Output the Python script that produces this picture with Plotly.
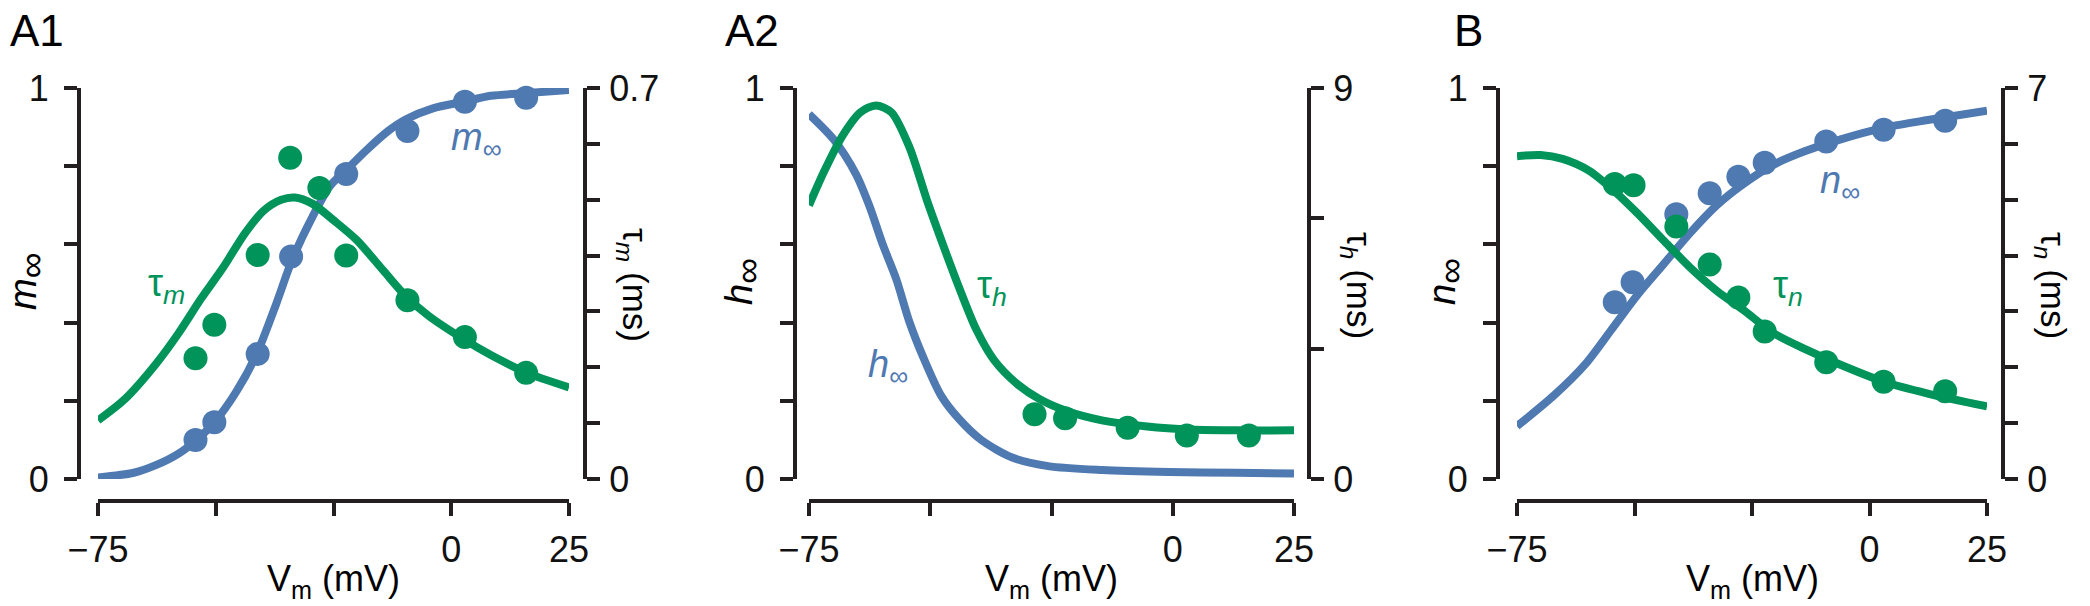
import plotly.graph_objects as go

# ---------------- data ----------------
# Panel A1 : m_inf and tau_m
a1_minf_curve_v = [-75, -67.4, -62.6, -57.9, -54.1, -50.3, -45.6, -41.3, -37.1, -33.8, -29.5,
                   -25.7, -22.3, -18.1, -13.4, -9.6, -3.9, 2.7, 8.4, 16.1, 25]
a1_minf_curve = [0.004, 0.016, 0.036, 0.065, 0.10, 0.145, 0.224, 0.32, 0.45, 0.56, 0.67,
                 0.75, 0.79, 0.84, 0.89, 0.92, 0.948, 0.965, 0.98, 0.987, 0.995]
a1_taum_curve_v = [-75, -69.3, -62.7, -57.9, -53.1, -48.4, -43.7, -39.9, -36.1, -33.2, -29.5,
                   -24.8, -20.1, -14.3, -9.6, -4.8, 2.7, 8.4, 16.1, 25]
a1_taum_curve = [0.105, 0.143, 0.206, 0.261, 0.323, 0.379, 0.441, 0.48, 0.50, 0.504, 0.493,
                 0.462, 0.428, 0.372, 0.327, 0.292, 0.25, 0.222, 0.19, 0.164]
a1_minf_pts_v = [-54.3, -50.3, -41.1, -34.0, -22.3, -9.3, 2.9, 15.9]
a1_minf_pts = [0.10, 0.145, 0.32, 0.569, 0.78, 0.89, 0.965, 0.975]
a1_taum_pts_v = [-54.3, -50.3, -41.1, -34.2, -28.0, -22.3, -9.3, 2.9, 15.9]
a1_taum_pts = [0.216, 0.276, 0.401, 0.575, 0.521, 0.40, 0.32, 0.254, 0.19]

# Panel A2 : h_inf and tau_h
a2_hinf_curve_v = [-75.0, -69.9, -65.3, -62.6, -59.8, -57.0, -54.3, -51.5, -47.8, -44.1, -39.5,
                   -33.1, -25.7, -14.6, -0.8, 13.0, 25.0]
a2_hinf_curve = [0.933, 0.868, 0.779, 0.70, 0.60, 0.511, 0.402, 0.313, 0.214, 0.154, 0.10,
                 0.055, 0.033, 0.023, 0.018, 0.016, 0.014]
a2_tauh_curve_v = [-75.0, -71.8, -68.1, -64.4, -61.2, -58.0, -54.3, -50.6, -47.4, -44.1, -40.5,
                   -36.8, -32.1, -27.5, -22.0, -14.6, -5.3, 3.8, 13.0, 25.0]
a2_tauh_curve = [6.30, 7.10, 7.90, 8.44, 8.60, 8.44, 7.64, 6.39, 5.40, 4.42, 3.44,
                 2.73, 2.19, 1.84, 1.57, 1.35, 1.21, 1.14, 1.12, 1.12]
a2_tauh_pts_v = [-28.5, -22.2, -9.3, 2.9, 15.7]
a2_tauh_pts = [1.49, 1.40, 1.18, 1.00, 1.00]

# Panel B : n_inf and tau_n
b_ninf_curve_v = [-75.0, -67.1, -60.5, -54.9, -49.3, -43.7, -38.1, -32.5, -26.9, -20.4, -13.8,
                  -6.3, 3.0, 12.4, 25.0]
b_ninf_curve = [0.135, 0.214, 0.293, 0.382, 0.472, 0.551, 0.63, 0.70, 0.754, 0.804, 0.838,
                0.868, 0.898, 0.918, 0.942]
b_ninf_pts_v = [-54.2, -50.4, -41.1, -34.0, -27.9, -22.3, -9.2, 3.0, 16.1]
b_ninf_pts = [0.452, 0.503, 0.677, 0.731, 0.773, 0.809, 0.863, 0.893, 0.916]
b_taun_curve_v = [-75.0, -70.0, -65.3, -59.7, -54.1, -49.4, -43.8, -38.2, -32.5, -26.9, -20.4,
                  -13.8, -6.3, 3.1, 12.4, 25.0]
b_taun_curve = [5.78, 5.80, 5.73, 5.52, 5.14, 4.76, 4.27, 3.79, 3.37, 3.03, 2.61,
                2.33, 2.05, 1.74, 1.53, 1.30]
b_taun_pts_v = [-54.2, -50.2, -41.1, -34.0, -27.9, -22.3, -9.2, 3.0, 16.1]
b_taun_pts = [5.28, 5.26, 4.52, 3.84, 3.25, 2.64, 2.09, 1.74, 1.57]

# axes / tick labels (labelled ticks + unlabelled minor ticks)
x_tickvals = [-75, 0, 25]
x_ticktext = ["\u221275", "0", "25"]
x_minorvals = [-50, -25]
left_tickvals = [0, 1]
left_ticktext = ["0", "1"]
left_minorvals = [0.2, 0.4, 0.6, 0.8]
a1_right_tickvals = [0, 0.7]
a1_right_ticktext = ["0", "0.7"]
a1_right_minorvals = [0.1, 0.2, 0.3, 0.4, 0.5, 0.6]
a2_right_tickvals = [0, 9]
a2_right_ticktext = ["0", "9"]
a2_right_minorvals = [3, 6]
b_right_tickvals = [0, 7]
b_right_ticktext = ["0", "7"]
b_right_minorvals = [1, 2, 3, 4, 5, 6]

panel_letters = ["A1", "A2", "B"]
INF = "<span style='font-size:36px'>\u221e</span>"
left_titles = ["<i>m</i><sub>" + INF + "</sub>", "<i>h</i><sub>" + INF + "</sub>",
               "<i>n</i><sub>" + INF + "</sub>"]
right_titles = ["\u03c4<sub><i>m</i></sub> (ms)", "\u03c4<sub><i>h</i></sub> (ms)",
                "\u03c4<sub><i>n</i></sub> (ms)"]
x_title = "V<sub>m</sub> (mV)"

# ---------------- styling / geometry ----------------
W, H = 2090, 606
BLUE = "#4F79B1"
GREEN = "#00935A"
AXC = "#231F20"
FONT = "Liberation Sans, Arial, sans-serif"
LW = 8
MS = 24

def fx(p):
    return p / W

def fy(p):
    return 1 - p / H

geom = [
    dict(left=79, x0=98, x1=569, right=585, letter=8),
    dict(left=795, x0=809, x1=1294, right=1309, letter=723),
    dict(left=1498, x0=1517, x1=1987, right=2003, letter=1452),
]
Y_TOP, Y_BOT, X_LINE = 88, 479, 501

fig = go.Figure()

def curve(x, y, xa, ya, color):
    fig.add_trace(go.Scatter(x=x, y=y, xaxis=xa, yaxis=ya, mode="lines",
                             line=dict(color=color, width=LW, shape="spline", smoothing=0.8),
                             showlegend=False, hoverinfo="skip"))

def dots(x, y, xa, ya, color):
    fig.add_trace(go.Scatter(x=x, y=y, xaxis=xa, yaxis=ya, mode="markers",
                             marker=dict(color=color, size=MS, line=dict(width=0)),
                             cliponaxis=False, showlegend=False, hoverinfo="skip"))

# A1
curve(a1_minf_curve_v, a1_minf_curve, "x", "y", BLUE)
dots(a1_minf_pts_v, a1_minf_pts, "x", "y", BLUE)
curve(a1_taum_curve_v, a1_taum_curve, "x", "y2", GREEN)
dots(a1_taum_pts_v, a1_taum_pts, "x", "y2", GREEN)
# A2
curve(a2_hinf_curve_v, a2_hinf_curve, "x2", "y3", BLUE)
curve(a2_tauh_curve_v, a2_tauh_curve, "x2", "y4", GREEN)
dots(a2_tauh_pts_v, a2_tauh_pts, "x2", "y4", GREEN)
# B
curve(b_ninf_curve_v, b_ninf_curve, "x3", "y5", BLUE)
dots(b_ninf_pts_v, b_ninf_pts, "x3", "y5", BLUE)
curve(b_taun_curve_v, b_taun_curve, "x3", "y6", GREEN)
dots(b_taun_pts_v, b_taun_pts, "x3", "y6", GREEN)

TICKLEN, TICKW = 13, 4

def minor(vals):
    return dict(tickmode="array", tickvals=vals, ticks="outside", ticklen=TICKLEN,
                tickwidth=TICKW, tickcolor=AXC, showgrid=False)

axis_common = dict(showgrid=False, zeroline=False, showline=True, linecolor=AXC, linewidth=4,
                   ticks="outside", ticklen=TICKLEN, tickwidth=TICKW, tickcolor=AXC,
                   tickmode="array", automargin=False,
                   tickfont=dict(family=FONT, size=36, color="#111111"),
                   fixedrange=True)

right_ticks = [(a1_right_tickvals, a1_right_ticktext, a1_right_minorvals, 0.7),
               (a2_right_tickvals, a2_right_ticktext, a2_right_minorvals, 9),
               (b_right_tickvals, b_right_ticktext, b_right_minorvals, 7)]

layout = dict(width=W, height=H, margin=dict(l=0, r=0, t=0, b=0, autoexpand=False),
              paper_bgcolor="white", plot_bgcolor="rgba(0,0,0,0)", showlegend=False,
              template="none")

annotations = []
for i, g in enumerate(geom):
    xn = "xaxis" if i == 0 else f"xaxis{i + 1}"
    yl = 2 * i + 1
    yr = 2 * i + 2
    yln = "yaxis" if yl == 1 else f"yaxis{yl}"
    yrn = f"yaxis{yr}"
    ylid = "y" if yl == 1 else f"y{yl}"
    layout[xn] = dict(axis_common, domain=[fx(g["x0"]), fx(g["x1"])], range=[-75, 25],
                      anchor="free", position=fy(X_LINE), tickvals=x_tickvals,
                      ticktext=x_ticktext, minor=minor(x_minorvals), ticklabelstandoff=3)
    layout[yln] = dict(axis_common, domain=[fy(Y_BOT), fy(Y_TOP)], range=[0, 1],
                       anchor="free", position=fx(g["left"]), side="left",
                       tickvals=left_tickvals, ticktext=left_ticktext,
                       minor=minor(left_minorvals), ticklabelstandoff=8)
    tv, tt, mv, top = right_ticks[i]
    layout[yrn] = dict(axis_common, domain=[fy(Y_BOT), fy(Y_TOP)], range=[0, top],
                       anchor="free", position=fx(g["right"]), side="right",
                       overlaying=ylid, tickvals=tv, ticktext=tt, minor=minor(mv),
                       ticklabelstandoff=2)

    # panel letter
    annotations.append(dict(text=panel_letters[i], x=fx(g["letter"]), y=fy(30),
                            xref="paper", yref="paper", xanchor="left", yanchor="middle",
                            showarrow=False, font=dict(family=FONT, size=44, color="black")))
    # left title
    annotations.append(dict(text=left_titles[i], x=fx(g["left"] - 52), y=fy(282),
                            xref="paper", yref="paper", textangle=-90, showarrow=False,
                            xanchor="center", yanchor="middle",
                            font=dict(family=FONT, size=38, color="black")))
    # right title
    annotations.append(dict(text=right_titles[i], x=fx(g["right"] + 48), y=fy(285),
                            xref="paper", yref="paper", textangle=90, showarrow=False,
                            xanchor="center", yanchor="middle",
                            font=dict(family=FONT, size=35, color="black")))
    # x title
    annotations.append(dict(text=x_title, x=fx((g["x0"] + g["x1"]) / 2), y=fy(581),
                            xref="paper", yref="paper", showarrow=False,
                            xanchor="center", yanchor="middle",
                            font=dict(family=FONT, size=36, color="black")))

# curve labels
curve_labels = [
    ("<i>m</i><sub>\u221e</sub>", BLUE, 476, 140),
    ("\u03c4<sub><i>m</i></sub>", GREEN, 166, 286),
    ("\u03c4<sub><i>h</i></sub>", GREEN, 992, 288),
    ("<i>h</i><sub>\u221e</sub>", BLUE, 888, 367),
    ("<i>n</i><sub>\u221e</sub>", BLUE, 1840, 183),
    ("\u03c4<sub><i>n</i></sub>", GREEN, 1788, 288),
]
for txt, col, xp, yp in curve_labels:
    annotations.append(dict(text=txt, x=fx(xp), y=fy(yp), xref="paper", yref="paper",
                            showarrow=False, xanchor="center", yanchor="middle",
                            font=dict(family=FONT, size=38, color=col)))

layout["annotations"] = annotations
fig.update_layout(**layout)
fig.write_html("out.html")
